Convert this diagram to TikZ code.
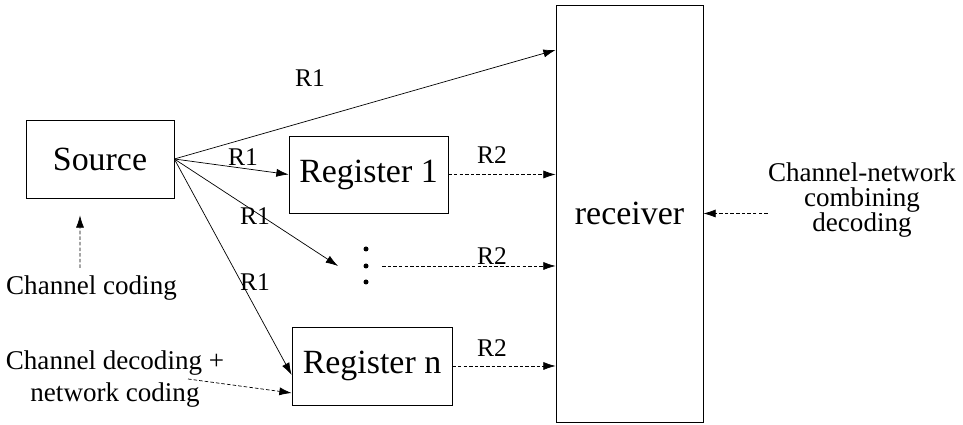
\documentclass[tikz,border=0pt]{standalone}
\usepackage{fontspec}
\setmainfont{Liberation Serif}
\usetikzlibrary{arrows.meta}

\tikzset{
  box/.style={draw, thin, inner sep=0pt, font=\fontsize{19.3}{23}\selectfont},
  txt/.style={inner sep=0pt, font=\fontsize{14.5}{18.2}\selectfont},
  note/.style={inner sep=0pt, align=center, font=\fontsize{15.4}{18.2}\selectfont},
  arr/.style={thin, -{Latex[length=7pt,width=4.6pt]}},
  darr/.style={arr, dash pattern=on 2pt off 1.2pt},
}

\begin{document}
\begin{tikzpicture}
	\useasboundingbox (0,0) rectangle (19.26,8.5);

	% boxes
	\node[box, minimum width=2.96cm, minimum height=1.56cm] (src) at (2.0,5.32) {Source};
	\node[box, minimum width=3.18cm, minimum height=1.54cm] (reg1) at (7.37,5.01) {Register 1};
	\node[box, minimum width=3.2cm, minimum height=1.56cm] (regn) at (7.44,1.18) {Register n};
	\node[box, minimum width=2.94cm, minimum height=8.34cm] (recv) at (12.59,4.23) {receiver};

	% dots
	\coordinate (dots) at (7.32,3.18);
	\foreach \dy in {0.34,0,-0.32}
		\fill ([yshift=\dy cm]dots) circle [radius=0.05];

	% R1
	\draw [arr] (src.east) -- ([yshift=3.27cm]recv.west);
	\draw [arr] (src.east) -- (reg1.west);
	\draw [arr] (src.east) -- ([xshift=-0.56cm]dots);
	\draw [arr] (src.east) -- ([yshift=-0.18cm]regn.west);

	% R2
	\draw [darr] (reg1.east) -- (reg1.east -| recv.west);
	\draw [darr] ([xshift=0.32cm]dots) -- (dots -| recv.west);
	\draw [darr] (regn.east) -- (regn.east -| recv.west);

	% label
	\node[txt] (r1a) at (6.2,6.94){R1};
	\node[txt] (r1b) at (4.86,5.36){R1};
	\node[txt] (r1c) at (5.1,4.18){R1};
	\node[txt] (r1d) at (5.1,2.86){R1};

	\node[txt] (r2a) at (9.84,5.4){R2};
	\node[txt] (r2b) at (9.84,3.38){R2};
	\node[txt] (r2c) at (9.84,1.54){R2};

	% coding
	\node[note] (cc) at (1.83,2.74){Channel coding};
	\coordinate (ccup) at (1.6,3.14);
	\draw [darr] (ccup) -- ([xshift=-0.4cm,yshift=-0.34cm]src.south);

	\node[note] (cd) at (2.3,0.92){Channel decoding +\\network coding};
	\coordinate (cdend) at (3.76,0.92);
	\draw [darr] (cdend) -- ([yshift=-0.54cm]regn.west);

	\node[note, font=\fontsize{15.4}{14.2}\selectfont] (cn) at (17.24,4.5){Channel-network\\combining\\decoding};
	\draw [darr] (cn.west |- recv.east) -- (recv.east);
\end{tikzpicture}
\end{document}
